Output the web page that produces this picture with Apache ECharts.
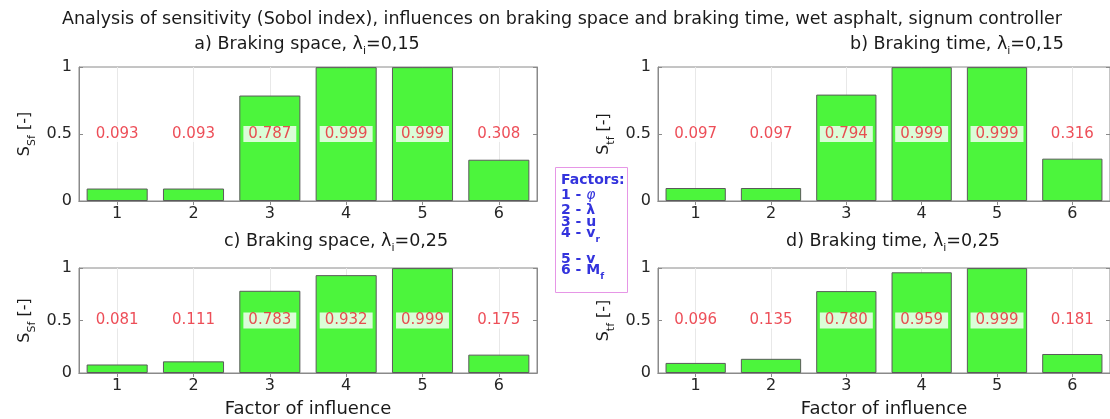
<!DOCTYPE html>
<html><head><meta charset="utf-8">
<script src="https://cdn.jsdelivr.net/npm/echarts@6.0.0/dist/echarts.min.js"></script>
<style>html,body{margin:0;padding:0;background:#fff}#c{width:1110px;height:419px}</style>
</head><body><div id="c"></div>
<script>
// ---- data ----
const categories = ['1', '2', '3', '4', '5', '6'];
const yTicks = [0, 0.5, 1];
const spaceLam015 = [0.093, 0.093, 0.787, 0.999, 0.999, 0.308];
const timeLam015  = [0.097, 0.097, 0.794, 0.999, 0.999, 0.316];
const spaceLam025 = [0.081, 0.111, 0.783, 0.932, 0.999, 0.175];
const timeLam025  = [0.096, 0.135, 0.780, 0.959, 0.999, 0.181];
const labelLevel = 0.5;
const mainTitle = 'Analysis of sensitivity (Sobol index), influences on braking space and braking time, wet asphalt, signum controller';
const panelTitles = [
  ['a) Braking space, λ', 'i', '=0,15'],
  ['b) Braking time, λ', 'i', '=0,15'],
  ['c) Braking space, λ', 'i', '=0,25'],
  ['d) Braking time, λ', 'i', '=0,25']
];
const yNames = [['S', 'Sf', ' [-]'], ['S', 'tf', ' [-]'], ['S', 'Sf', ' [-]'], ['S', 'tf', ' [-]']];
const xName = 'Factor of influence';
const legendLines = ['{b|Factors:}', '{b|1 - }{it|φ}', '{b|2 - λ}', '{b|3 - u}', '{b|4 - v}{sub|r}', '{b|5 - v}', '{b|6 - M}{sub|f}'];

// ---- layout / style ----
const FONT = "'DejaVu Sans', sans-serif";
const PW = 458;
const layout = [
  { left: 79,  top: 67,  height: 134, values: spaceLam015, tx: 307, ty: 44,  xName: false },
  { left: 658, top: 67,  height: 134, values: timeLam015,  tx: 957, ty: 44,  xName: false },
  { left: 79,  top: 268, height: 113, values: spaceLam025, tx: 336, ty: 241, xName: true },
  { left: 658, top: 268, height: 113, values: timeLam025,  tx: 893, ty: 241, xName: true }
];
const legendY = [180, 195, 210, 222, 233, 259, 270];
const AX = '#8a8a8a';

const grid = [], xAxis = [], yAxis = [], series = [], graphic = [];
const subRich = {
  n: { fontSize: 16, fontFamily: FONT, color: '#1a1a1a', lineHeight: 18 },
  sub: { fontSize: 11, fontFamily: FONT, color: '#1a1a1a', lineHeight: 10, verticalAlign: 'top', padding: [11, 0, 0, 0] }
};

layout.forEach((p, i) => {
  grid.push({ left: p.left, top: p.top, width: PW, height: p.height, show: true, borderColor: AX, borderWidth: 1, backgroundColor: '#fff' });
  xAxis.push({
    type: 'category', data: categories, gridIndex: i, position: 'bottom',
    axisLine: { show: true, lineStyle: { color: AX } },
    axisTick: { show: true, inside: true, alignWithLabel: true, length: 4, lineStyle: { color: AX } },
    axisLabel: { color: '#262626', fontSize: 16, fontFamily: FONT, margin: 5 },
    splitLine: { show: true, alignWithLabel: true, lineStyle: { color: '#e8e8e8' } },
    name: p.xName ? xName : '', nameLocation: 'middle', nameGap: 27,
    nameTextStyle: { color: '#1a1a1a', fontSize: 18, fontFamily: FONT }
  });
  xAxis.push({
    type: 'category', data: categories, gridIndex: i, position: 'top',
    axisLine: { show: true, lineStyle: { color: AX } },
    axisTick: { show: true, inside: true, alignWithLabel: true, length: 4, lineStyle: { color: AX } },
    axisLabel: { show: false }, splitLine: { show: false }
  });
  const yn = yNames[i];
  yAxis.push({
    type: 'value', gridIndex: i, min: yTicks[0], max: yTicks[yTicks.length - 1], interval: yTicks[1] - yTicks[0], position: 'left',
    axisLine: { show: true, lineStyle: { color: AX } },
    axisTick: { show: true, inside: true, length: 4, lineStyle: { color: AX } },
    axisLabel: { color: '#262626', fontSize: 16, fontFamily: FONT, margin: 7 },
    splitLine: { show: false },
    name: '{n|' + yn[0] + '}{sub|' + yn[1] + '}{n|' + yn[2] + '}',
    nameLocation: 'middle', nameRotate: 90, nameGap: 45,
    nameTextStyle: { rich: subRich }
  });
  yAxis.push({
    type: 'value', gridIndex: i, min: yTicks[0], max: yTicks[yTicks.length - 1], interval: yTicks[1] - yTicks[0], position: 'right',
    axisLine: { show: true, lineStyle: { color: AX } },
    axisTick: { show: true, inside: true, length: 4, lineStyle: { color: AX } },
    axisLabel: { show: false }, splitLine: { show: false }
  });
  series.push({
    type: 'bar', xAxisIndex: 2 * i, yAxisIndex: 2 * i, data: p.values, barWidth: '80%',
    itemStyle: { color: '#4cf53c', borderColor: '#5a5a5a', borderWidth: 1 },
    silent: true, animation: false
  });
  series.push({
    type: 'scatter', xAxisIndex: 2 * i, yAxisIndex: 2 * i,
    data: p.values.map((v, k) => [k, labelLevel]),
    symbolSize: 0.1, itemStyle: { color: 'transparent' }, silent: true, animation: false, z: 5,
    label: {
      show: true, position: 'inside',
      formatter: (prm) => p.values[prm.dataIndex].toFixed(3),
      color: '#e8222e', fontSize: 15, fontFamily: FONT,
      backgroundColor: '#fff', padding: [1, 5, 0, 5]
    }
  });
  const t = panelTitles[i];
  graphic.push({
    type: 'text', x: p.tx, y: p.ty,
    style: {
      text: '{n|' + t[0] + '}{sub|' + t[1] + '}{n|' + t[2] + '}',
      align: 'center', verticalAlign: 'middle',
      rich: {
        n: { fontSize: 17.5, fontFamily: FONT, fill: '#1a1a1a', color: '#1a1a1a', lineHeight: 18 },
        sub: { fontSize: 11, fontFamily: FONT, fill: '#1a1a1a', color: '#1a1a1a', lineHeight: 10, verticalAlign: 'top', padding: [11, 0, 0, 0] }
      }
    }
  });
});

graphic.push({
  type: 'text', x: 562, y: 19,
  style: { text: mainTitle, align: 'center', verticalAlign: 'middle', fontSize: 17.5, fontFamily: FONT, fill: '#1a1a1a' }
});
graphic.push({
  type: 'rect', shape: { x: 555.5, y: 167.5, width: 72, height: 125 },
  style: { fill: '#fff', stroke: '#e696e6', lineWidth: 1 }
});
legendLines.forEach((txt, k) => {
  graphic.push({
    type: 'text', x: 561, y: legendY[k],
    style: {
      text: txt, align: 'left', verticalAlign: 'middle',
      rich: {
        b: { fontSize: 14, fontWeight: 'bold', fontFamily: FONT, fill: '#3333dd', color: '#3333dd', lineHeight: 15 },
        it: { fontSize: 14, fontStyle: 'italic', fontFamily: FONT, fill: '#3333dd', color: '#3333dd', lineHeight: 15 },
        sub: { fontSize: 9, fontWeight: 'bold', fontFamily: FONT, fill: '#3333dd', color: '#3333dd', lineHeight: 8, verticalAlign: 'top', padding: [10, 0, 0, 0] }
      }
    }
  });
});

const chart = echarts.init(document.getElementById('c'), null, { renderer: 'canvas' });
chart.setOption({ animation: false, backgroundColor: '#fff', grid, xAxis, yAxis, series, graphic });
</script></body></html>
